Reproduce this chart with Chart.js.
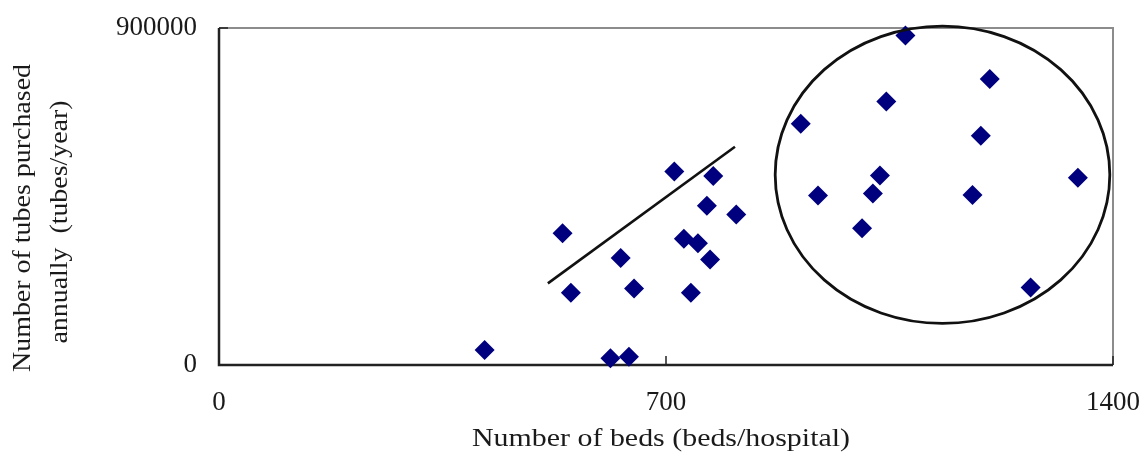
<!DOCTYPE html>
<html>
<head>
<meta charset="utf-8">
<script src="https://cdn.jsdelivr.net/npm/chart.js@4/dist/chart.umd.min.js"></script>
<style>
  html, body { margin: 0; padding: 0; background: #fff; }
  #wrap { width: 1144px; height: 454px; }
</style>
</head>
<body>
<div id="wrap"><canvas id="bedsChart" width="1144" height="454"></canvas></div>
<script>
// beds per hospital vs tubes purchased per year
const bedsX = [416, 538, 551, 613, 642, 629, 650, 713, 774, 764, 810, 728, 750, 769, 739,
               911, 938, 1007, 1024, 1035, 1045, 1075, 1207, 1193, 1180, 1345, 1271];
const tubesY = [40000, 352000, 193000, 18000, 22000, 286000, 204000, 517000, 505000, 425000, 402000, 337000, 325000, 282000, 193000,
                644000, 453000, 365000, 458000, 506000, 704000, 880000, 764000, 612000, 454000, 500000, 207000];

// hand-drawn trend line and circled group
const trendX = [515, 808];
const trendY = [218000, 583000];
const circleCenter = [1133, 508000];
const circleRadius = [262, 397000];

const xTicks = [0, 700, 1400];
const yTicks = [0, 900000];
const xTitle = 'Number of beds (beds/hospital)';
const yTitle = ['Number of tubes purchased', 'annually  (tubes/year)'];

const FONT = '"Liberation Serif", "Times New Roman", serif';
const TEXT = '#1a1a1a';

const points = bedsX.map((x, i) => ({ x: x, y: tubesY[i] }));
const trend = trendX.map((x, i) => ({ x: x, y: trendY[i] }));

// text in the original is a bit wider than Times, so squeeze it to a width
function wideText(ctx, str, x, y, width) {
  const w = ctx.measureText(str).width;
  ctx.save();
  ctx.translate(x, y);
  ctx.scale(width / w, 1);
  ctx.fillText(str, 0, 0);
  ctx.restore();
}

// frame, inward ticks, circle and axis titles
const extras = {
  id: 'extras',
  beforeDatasetsDraw(chart) {
    const { ctx, chartArea: a, scales: { x, y } } = chart;
    ctx.save();
    ctx.lineWidth = 2;
    ctx.strokeStyle = '#8c8c8c';
    ctx.beginPath();
    ctx.moveTo(a.left, a.top);
    ctx.lineTo(a.right, a.top);
    ctx.lineTo(a.right, a.bottom);
    ctx.stroke();
    ctx.strokeStyle = '#222';
    ctx.lineWidth = 2.5;
    ctx.beginPath();
    ctx.moveTo(a.left, a.top);
    ctx.lineTo(a.left, a.bottom);
    ctx.lineTo(a.right, a.bottom);
    ctx.stroke();
    // small ticks pointing into the plot
    ctx.lineWidth = 1.5;
    xTicks.forEach(v => {
      const px = x.getPixelForValue(v);
      ctx.beginPath();
      ctx.moveTo(px, a.bottom);
      ctx.lineTo(px, a.bottom - 9);
      ctx.stroke();
    });
    yTicks.forEach(v => {
      const py = y.getPixelForValue(v);
      ctx.beginPath();
      ctx.moveTo(a.left, py);
      ctx.lineTo(a.left + 9, py);
      ctx.stroke();
    });
    ctx.restore();
  },
  afterDatasetsDraw(chart) {
    const { ctx, scales: { x, y } } = chart;
    const cx = x.getPixelForValue(circleCenter[0]);
    const cy = y.getPixelForValue(circleCenter[1]);
    const rx = x.getPixelForValue(circleCenter[0] + circleRadius[0]) - cx;
    const ry = cy - y.getPixelForValue(circleCenter[1] + circleRadius[1]);
    ctx.save();
    ctx.strokeStyle = '#111';
    ctx.lineWidth = 2.8;
    ctx.beginPath();
    ctx.ellipse(cx, cy, rx, ry, 0, 0, Math.PI * 2);
    ctx.stroke();

    ctx.fillStyle = TEXT;
    ctx.font = '25px ' + FONT;
    ctx.textAlign = 'center';
    ctx.textBaseline = 'middle';
    wideText(ctx, xTitle, 661, 439, 378);
    ctx.translate(0, 218);
    ctx.rotate(-Math.PI / 2);
    wideText(ctx, yTitle[0], 0, 23, 308);
    wideText(ctx, yTitle[1], -4, 60, 243);
    ctx.restore();
  }
};

const ctx = document.getElementById('bedsChart').getContext('2d');
const bedsChart = new Chart(ctx, {
  type: 'scatter',
  data: {
    datasets: [
      {
        label: 'Hospitals',
        data: points,
        pointStyle: 'rectRot',
        pointRadius: 10,
        pointHoverRadius: 10,
        backgroundColor: '#00007f',
        borderColor: '#00007f',
        borderWidth: 0,
        clip: false
      },
      {
        label: 'Trend',
        type: 'line',
        data: trend,
        borderColor: '#111',
        borderWidth: 2.6,
        pointRadius: 0,
        fill: false
      }
    ]
  },
  options: {
    responsive: false,
    animation: false,
    events: [],
    layout: { padding: { left: 0, right: 31, top: 28, bottom: 0 } },
    plugins: { legend: { display: false }, tooltip: { enabled: false } },
    scales: {
      x: {
        type: 'linear',
        min: 0,
        max: 1400,
        afterBuildTicks: s => { s.ticks = xTicks.map(v => ({ value: v })); },
        afterFit: s => { s.height = 89; s.paddingLeft = 0; s.paddingRight = 0; },
        grid: { display: false, drawTicks: false },
        border: { display: false },
        ticks: { padding: 22, color: TEXT, font: { family: FONT, size: 27 }, maxRotation: 0, callback: v => String(v) }
      },
      y: {
        type: 'linear',
        min: 0,
        max: 900000,
        afterBuildTicks: s => { s.ticks = yTicks.map(v => ({ value: v })); },
        afterFit: s => { s.width = 219; s.paddingTop = 0; s.paddingBottom = 0; },
        grid: { display: false, drawTicks: false },
        border: { display: false },
        ticks: { padding: 22, color: TEXT, font: { family: FONT, size: 27 }, callback: v => String(v) }
      }
    }
  },
  plugins: [extras]
});
</script>
</body>
</html>
